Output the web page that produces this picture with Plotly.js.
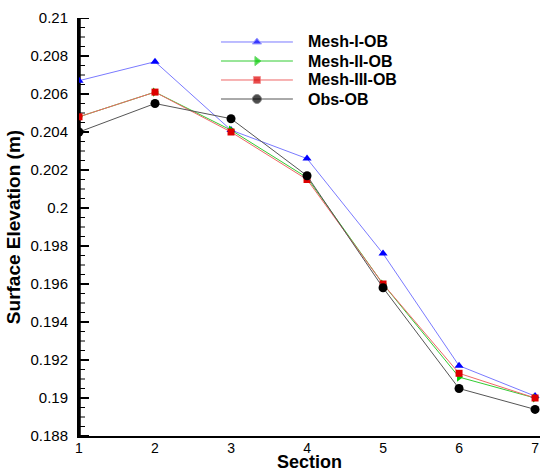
<!DOCTYPE html>
<html>
<head>
<meta charset="utf-8">
<script src="https://cdn.plot.ly/plotly-3.0.1.min.js"></script>
<style>html,body{margin:0;padding:0;background:#fff;}#chart{width:541px;height:472px;}</style>
</head>
<body>
<div id="chart"></div>
<script>
const sections = [1, 2, 3, 4, 5, 6, 7];
const meshI   = [0.2067, 0.2077, 0.2041, 0.2026, 0.1976, 0.1917, 0.1901];
const meshII  = [0.2048, 0.2061, 0.2041, 0.2016, 0.1960, 0.1911, 0.1900];
const meshIII = [0.2048, 0.2061, 0.2040, 0.2015, 0.1960, 0.1913, 0.1900];
const obs     = [0.2040, 0.2055, 0.2047, 0.2017, 0.1958, 0.1905, 0.1894];
const seriesNames = ['Mesh-I-OB', 'Mesh-II-OB', 'Mesh-III-OB', 'Obs-OB'];
const yTicks = [0.188, 0.19, 0.192, 0.194, 0.196, 0.198, 0.2, 0.202, 0.204, 0.206, 0.208, 0.21];
const minorPerMajor = 4;

const FONT = 'Liberation Sans, Arial, sans-serif';
const X_RANGE = [1, 7.065];
const PLOT_W = 461;
const pxToX = px => px * (X_RANGE[1] - X_RANGE[0]) / PLOT_W;

const styles = [
  {line: '#7a7aff', mark: '#0000ff', symbol: 'triangle-up', size: 8},
  {line: '#33cc33', mark: '#00cc00', symbol: 'triangle-right', size: 8},
  {line: '#ee6666', mark: '#dd0000', symbol: 'square', size: 7},
  {line: '#555555', mark: '#000000', symbol: 'circle', size: 9}
];
const values = [meshI, meshII, meshIII, obs];

// y-axis line and inside ticks drawn in the main subplot
const x0 = X_RANGE[0];
const majX = [], majY = [], minX = [], minY = [];
for (let k = 0; k < yTicks.length; k++) {
  majX.push(x0, x0 + pxToX(10), null); majY.push(yTicks[k], yTicks[k], null);
  if (k < yTicks.length - 1) {
    for (let m = 1; m < minorPerMajor; m++) {
      const v = yTicks[k] + (yTicks[k + 1] - yTicks[k]) * m / minorPerMajor;
      minX.push(x0, x0 + pxToX(6), null); minY.push(v, v, null);
    }
  }
}
const data = [
  {x: [x0 + pxToX(0.5), x0 + pxToX(0.5)], y: [yTicks[0], yTicks[yTicks.length - 1]],
   mode: 'lines', line: {color: '#000', width: 2.5}, showlegend: false, hoverinfo: 'skip'},
  {x: majX, y: majY, mode: 'lines', connectgaps: false,
   line: {color: '#000', width: 2}, showlegend: false, hoverinfo: 'skip'},
  {x: minX, y: minY, mode: 'lines', connectgaps: false,
   line: {color: '#000', width: 1}, showlegend: false, hoverinfo: 'skip'}
];

values.forEach((v, i) => data.push({
  x: sections, y: v, name: seriesNames[i], type: 'scatter', mode: 'lines+markers',
  line: {color: styles[i].line, width: 1},
  marker: {color: styles[i].mark, symbol: styles[i].symbol, size: styles[i].size},
  showlegend: false
}));

// custom legend (layout positions in an overlay [0,1] frame)
const legX0 = 0.308, legX1 = 0.464, legXm = 0.386, legText = 0.4924;
const legRows = [0.9426, 0.8971, 0.8517, 0.8062];
const annotations = [];
seriesNames.forEach((n, i) => {
  data.push({
    x: [legX0, legXm, legX1], y: [legRows[i], legRows[i], legRows[i]],
    xaxis: 'x2', yaxis: 'y2', type: 'scatter', mode: 'lines+markers',
    line: {color: styles[i].line, width: 1},
    marker: {color: styles[i].mark, symbol: styles[i].symbol, size: [0, styles[i].size, 0]},
    showlegend: false, hoverinfo: 'skip'
  });
  annotations.push({
    xref: 'paper', yref: 'paper', x: legText, y: legRows[i], xanchor: 'left', yanchor: 'middle',
    text: n, showarrow: false, font: {family: FONT, size: 16, weight: 700, color: '#000'}
  });
});

const layout = {
  width: 541, height: 472,
  margin: {l: 79, r: 1, t: 18, b: 36},
  paper_bgcolor: '#fff', plot_bgcolor: '#fff',
  font: {family: FONT, color: '#000', size: 15},
  showlegend: false,
  annotations: annotations,
  xaxis: {
    range: X_RANGE, tickmode: 'linear', tick0: 1, dtick: 1, ticks: '',
    showline: true, linecolor: '#000', linewidth: 2, mirror: false,
    showgrid: false, zeroline: false, ticklabelstandoff: -2,
    tickfont: {family: FONT, size: 14},
    title: {text: 'Section', font: {family: FONT, size: 18, weight: 700}, standoff: 4}
  },
  yaxis: {
    range: [0.188, 0.21], tickvals: yTicks, tickformat: '.3~f', ticks: '',
    showline: true, linecolor: '#000', linewidth: 2,
    showgrid: false, zeroline: false, ticklabelstandoff: 6,
    tickfont: {family: FONT, size: 15},
    title: {text: 'Surface Elevation (m)', font: {family: FONT, size: 19, weight: 700}, standoff: 5}
  },
  xaxis2: {overlaying: 'x', range: [0, 1], visible: false, fixedrange: true},
  yaxis2: {overlaying: 'y', range: [0, 1], visible: false, fixedrange: true}
};

Plotly.newPlot('chart', data, layout, {staticPlot: true, displayModeBar: false});
</script>
</body>
</html>
